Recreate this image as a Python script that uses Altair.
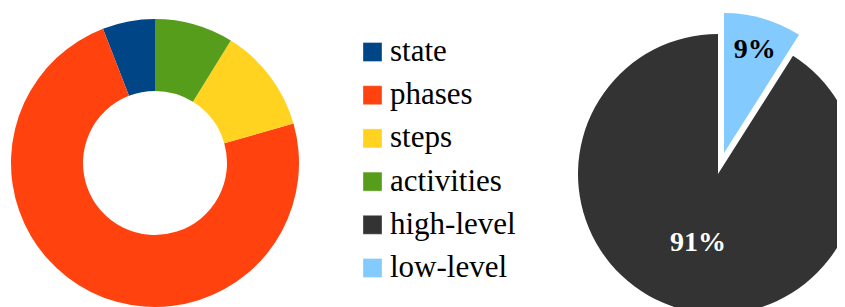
import altair as alt
import pandas as pd

# ---- data ----
donut_categories = ["state", "phases", "steps", "activities"]
donut_values = [2, 25, 4, 3]
donut_order = [3, 2, 1, 0]  # clockwise from top: activities, steps, phases, state

pie_categories = ["high-level", "low-level"]
pie_values = [91, 9]
pie_labels = ["91%", "9%"]
pie_order = [1, 0]  # clockwise from top: low-level, high-level

legend_domain = ["state", "phases", "steps", "activities", "high-level", "low-level"]
legend_colors = ["#004586", "#ff420e", "#ffd320", "#579d1c", "#333333", "#83caff"]

donut_df = pd.DataFrame({"category": donut_categories, "value": donut_values, "ord": donut_order})
pie_df = pd.DataFrame({"category": pie_categories, "value": pie_values,
                       "label": pie_labels, "ord": pie_order})
legend_df = pd.DataFrame({"category": legend_domain})

color_scale = alt.Scale(domain=legend_domain, range=legend_colors)
color = alt.Color("category:N", scale=color_scale, legend=None)

theta = alt.Theta("value:Q", stack="normalize")
order = alt.Order("ord:Q", sort="ascending")

donut = alt.Chart(donut_df).mark_arc(outerRadius=144, innerRadius=72).encode(
    theta=theta, order=order, color=color,
    x=alt.value(147), y=alt.value(155),
)

is_hi = "datum.category == 'high-level'"

pie_main = alt.Chart(pie_df).mark_arc(outerRadius=140).encode(
    theta=theta, order=order, color=color,
    opacity=alt.condition(is_hi, alt.value(1), alt.value(0)),
    x=alt.value(710), y=alt.value(166),
)

pie_explode = alt.Chart(pie_df).mark_arc(outerRadius=140).encode(
    theta=theta, order=order, color=color,
    opacity=alt.condition(is_hi, alt.value(0), alt.value(1)),
    x=alt.value(716), y=alt.value(145),
)

text_hi = alt.Chart(pie_df).mark_text(font="Liberation Serif", fontSize=28, fontWeight="bold",
                                      color="white", baseline="middle", align="center").encode(
    theta=theta, order=order, text="label:N",
    opacity=alt.condition(is_hi, alt.value(1), alt.value(0)),
    radius=alt.value(72),
    x=alt.value(710), y=alt.value(166),
)

text_lo = alt.Chart(pie_df).mark_text(font="Liberation Serif", fontSize=28, fontWeight="bold",
                                      color="black", baseline="middle", align="center").encode(
    theta=theta, order=order, text="label:N",
    opacity=alt.condition(is_hi, alt.value(0), alt.value(1)),
    radius=alt.value(107),
    x=alt.value(717), y=alt.value(145),
)

legend_y = alt.Y("category:N", axis=None,
                 scale=alt.Scale(type="point", domain=legend_domain, range=[44, 260], padding=0))

legend_sq = alt.Chart(legend_df).mark_square(size=361, opacity=1, filled=True,
                                             stroke="white", strokeOpacity=0.35, strokeWidth=1).encode(
    y=legend_y, color=color, x=alt.value(364.5),
)

legend_txt = alt.Chart(legend_df).mark_text(font="Liberation Serif", fontSize=31, color="black",
                                            align="left", baseline="middle").encode(
    y=legend_y, text="category:N", x=alt.value(382),
)

chart = alt.layer(donut, pie_main, pie_explode, text_hi, text_lo, legend_sq, legend_txt).properties(
    width=829, height=299, autosize=alt.AutoSizeParams(type="none"), padding=0,
).configure_view(stroke=None)

chart.save("out.html", embed_options={"renderer": "svg", "actions": False})
